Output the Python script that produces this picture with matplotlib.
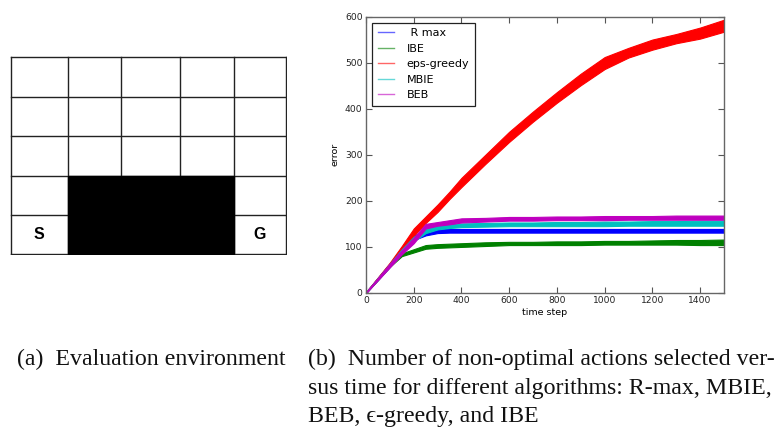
import matplotlib
matplotlib.use('Agg')
import matplotlib.pyplot as plt
from matplotlib.patches import Rectangle
from matplotlib.lines import Line2D
import numpy as np

# %% grid world layout (cell edges measured in px from the top-left of the grid)
col_edges = [0, 57, 111, 170, 224.5, 277]
row_edges = [0, 40, 80, 120, 160, 199]
wall_cols = (1, 4)   # blocked columns [start, stop)
wall_rows = (3, 5)   # blocked rows [start, stop)
start_cell = (0, 4)  # (col, row)
goal_cell = (4, 4)

# %% error curves, lower / upper edge of each band
steps = [0, 100, 150, 200, 250, 300, 350, 400, 500, 600, 700, 800,
         900, 1000, 1100, 1200, 1300, 1400, 1500]

rmax_lo = [0, 57, 88, 115, 125, 130, 131, 131, 131, 131, 131, 131, 131, 131, 131, 131, 131, 131, 131]
rmax_hi = [2, 64, 96, 125, 135, 139, 139, 139, 139, 139, 139, 139, 139, 139, 139, 139, 139, 139, 139]

ibe_lo = [0, 57, 80, 88, 96, 98, 99, 100, 102, 104, 104, 104, 104, 105, 105, 105, 105, 104, 104]
ibe_hi = [2, 64, 86, 95, 104, 106, 107, 108, 110, 111, 111, 112, 112, 113, 113, 114, 115, 115, 116]

eps_lo = [0, 58, 92, 124, 152, 176, 204, 230, 280, 328, 372, 413, 451, 486, 511, 528, 542, 552, 567]
eps_hi = [2, 66, 102, 140, 166, 192, 220, 250, 300, 350, 394, 436, 476, 512, 532, 550, 562, 576, 593]

mbie_lo = [0, 57, 86, 112, 130, 138, 141, 143, 144, 145, 145, 145, 145, 145, 146, 146, 146, 146, 146]
mbie_hi = [2, 64, 95, 122, 140, 146, 149, 151, 152, 153, 153, 154, 154, 155, 155, 156, 156, 157, 157]

beb_lo = [0, 56, 84, 108, 140, 146, 149, 153, 155, 157, 157, 158, 158, 158, 159, 159, 159, 159, 159]
beb_hi = [2, 64, 93, 120, 150, 154, 158, 162, 163, 165, 165, 166, 166, 167, 167, 167, 168, 168, 168]

labels = [' R max', 'IBE', 'eps-greedy', 'MBIE', 'BEB']
colors = ['#0000ff', '#008000', '#ff0000', '#00bfbf', '#bf00bf']
bands = [(rmax_lo, rmax_hi), (ibe_lo, ibe_hi), (eps_lo, eps_hi),
         (mbie_lo, mbie_hi), (beb_lo, beb_hi)]

caption_a = '(a)  Evaluation environment'
caption_b = ['(b)  Number of non-optimal actions selected ver-',
             'sus time for different algorithms: R-max, MBIE,',
             'BEB, \u03f5-greedy, and IBE']

# %% figure
W, H = 778, 428
fig = plt.figure(figsize=(W / 100, H / 100), dpi=100)


def fx(px):
    return px / W


def fy(py):
    return 1 - py / H


# ---- grid world
ax0 = fig.add_axes([fx(10), fy(255), fx(277), 199 / H])
ax0.set_xlim(-1, col_edges[-1] + 1)
ax0.set_ylim(row_edges[-1] + 1, -1)
ax0.axis('off')
for x in col_edges:
    ax0.plot([x, x], [row_edges[0], row_edges[-1]], color='#222222', lw=1.0,
             solid_capstyle='projecting')
for y in row_edges:
    ax0.plot([col_edges[0], col_edges[-1]], [y, y], color='#222222', lw=1.0,
             solid_capstyle='projecting')
x0, x1 = col_edges[wall_cols[0]], col_edges[wall_cols[1]]
y0, y1 = row_edges[wall_rows[0]], row_edges[wall_rows[1]]
ax0.add_patch(Rectangle((x0, y0), x1 - x0, y1 - y0, color='black', zorder=3))
for cell, txt in [(start_cell, 'S'), (goal_cell, 'G')]:
    cx = (col_edges[cell[0]] + col_edges[cell[0] + 1]) / 2
    cy = (row_edges[cell[1]] + row_edges[cell[1] + 1]) / 2
    ax0.text(cx, cy, txt, ha='center', va='center', fontsize=11.5,
             fontweight='bold', family='Liberation Sans')

# ---- error plot
ax = fig.add_axes([fx(366), fy(293), fx(358), 276.5 / H])
for (lo, hi), c in zip(bands, colors):
    ax.fill_between(steps, lo, hi, color=c, lw=0.8, edgecolor=c)
ax.set_xlim(0, 1500)
ax.set_ylim(0, 600)
ax.set_xticks(np.arange(0, 1401, 200))
ax.set_yticks(np.arange(0, 601, 100))
ax.tick_params(direction='in', top=True, right=True, length=4, width=0.8,
               labelsize=6.6, pad=2.5, colors='#555555', labelcolor='#222222')
for s in ax.spines.values():
    s.set_color('#666666')
    s.set_linewidth(1.0)
ax.set_xlabel('time step', fontsize=6.8, labelpad=1.5)
ax.set_ylabel('error', fontsize=6.8, labelpad=4)

handles = [Line2D([], [], color=c, lw=1.0, alpha=0.6) for c in colors]
leg = ax.legend(handles, labels, loc='upper left', fontsize=8, fancybox=False,
                edgecolor='#222222', framealpha=1, handlelength=1.5,
                handletextpad=1.1, borderpad=0.5, borderaxespad=0.55,
                labelspacing=0.5)
leg.get_frame().set_linewidth(0.9)

# ---- captions
cap_kw = dict(fontsize=17.2, family=['Liberation Serif', 'DejaVu Serif'],
              va='baseline', color='#111111')
fig.text(fx(17), fy(365.5), caption_a, **cap_kw)
for i, line in enumerate(caption_b):
    fig.text(fx(308), fy(365.5 + 28.3 * i), line, **cap_kw)

plt.savefig('out.png', dpi=100)
